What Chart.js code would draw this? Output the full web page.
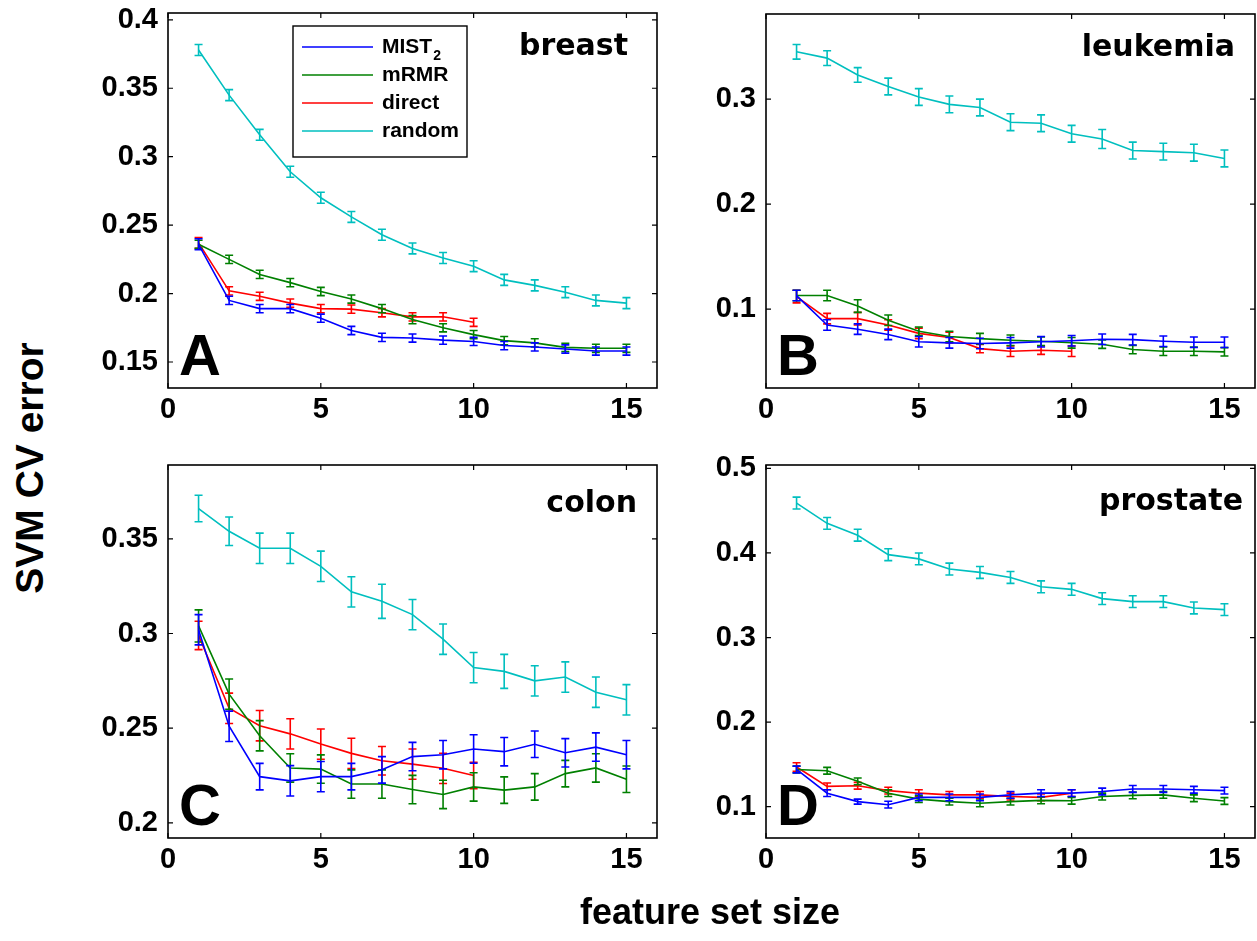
<!DOCTYPE html>
<html>
<head>
<meta charset="utf-8">
<script src="https://cdn.jsdelivr.net/npm/chart.js@4"></script>
<style>
  html, body { margin: 0; padding: 0; background: #fff; }
  body { width: 1257px; height: 941px; position: relative; overflow: hidden; }
  canvas { position: absolute; }
  .axis-title { position: absolute; font-family: "Liberation Sans", Arial, sans-serif; font-weight: bold; color: #000; white-space: nowrap; }
</style>
</head>
<body>
<canvas id="panelA"></canvas>
<canvas id="panelB"></canvas>
<canvas id="panelC"></canvas>
<canvas id="panelD"></canvas>
<div class="axis-title" id="yTitle">SVM CV error</div>
<div class="axis-title" id="xTitle">feature set size</div>
<script>
// --- data ---
const featureSizes = [1, 2, 3, 4, 5, 6, 7, 8, 9, 10, 11, 12, 13, 14, 15];
const directSizes = [1, 2, 3, 4, 5, 6, 7, 8, 9, 10];
const seriesNames = ['MIST2', 'mRMR', 'direct', 'random'];
const xTicks = [0, 5, 10, 15];

// breast
const breastMist = [0.236, 0.195, 0.189, 0.189, 0.182, 0.173, 0.168, 0.1675, 0.166, 0.165, 0.162, 0.161, 0.1595, 0.158, 0.158];
const breastMistErr = [0.004, 0.003, 0.003, 0.003, 0.003, 0.003, 0.003, 0.003, 0.003, 0.003, 0.003, 0.003, 0.003, 0.003, 0.003];
const breastMrmr = [0.236, 0.225, 0.214, 0.208, 0.2015, 0.196, 0.189, 0.181, 0.175, 0.170, 0.1656, 0.164, 0.1607, 0.160, 0.160];
const breastMrmrErr = [0.003, 0.003, 0.003, 0.003, 0.003, 0.003, 0.003, 0.003, 0.003, 0.003, 0.003, 0.003, 0.003, 0.003, 0.003];
const breastDirect = [0.237, 0.202, 0.198, 0.193, 0.189, 0.1886, 0.186, 0.183, 0.183, 0.179];
const breastDirectErr = [0.004, 0.003, 0.003, 0.003, 0.003, 0.003, 0.003, 0.003, 0.003, 0.003];
const breastRandom = [0.378, 0.345, 0.316, 0.289, 0.270, 0.256, 0.243, 0.233, 0.226, 0.220, 0.210, 0.206, 0.201, 0.195, 0.193];
const breastRandomErr = [0.004, 0.004, 0.004, 0.004, 0.004, 0.004, 0.004, 0.004, 0.004, 0.004, 0.004, 0.004, 0.004, 0.004, 0.004];

// leukemia
const leukMist = [0.113, 0.085, 0.081, 0.076, 0.069, 0.068, 0.0673, 0.068, 0.069, 0.070, 0.0714, 0.071, 0.0695, 0.0686, 0.0686];
const leukMistErr = [0.005, 0.005, 0.005, 0.005, 0.005, 0.005, 0.005, 0.005, 0.005, 0.005, 0.005, 0.005, 0.005, 0.005, 0.005];
const leukMrmr = [0.113, 0.113, 0.103, 0.0895, 0.079, 0.074, 0.072, 0.0705, 0.0695, 0.068, 0.0667, 0.0616, 0.060, 0.060, 0.0594];
const leukMrmrErr = [0.005, 0.005, 0.006, 0.005, 0.004, 0.005, 0.005, 0.005, 0.004, 0.005, 0.004, 0.004, 0.004, 0.004, 0.004];
const leukDirect = [0.112, 0.091, 0.091, 0.085, 0.077, 0.073, 0.0625, 0.060, 0.061, 0.060];
const leukDirectErr = [0.006, 0.005, 0.006, 0.005, 0.005, 0.005, 0.004, 0.005, 0.004, 0.005];
const leukRandom = [0.345, 0.339, 0.323, 0.312, 0.302, 0.295, 0.292, 0.278, 0.277, 0.267, 0.262, 0.251, 0.250, 0.249, 0.2435];
const leukRandomErr = [0.007, 0.007, 0.007, 0.008, 0.008, 0.008, 0.008, 0.008, 0.008, 0.008, 0.009, 0.008, 0.008, 0.008, 0.008];

// colon
const colonMist = [0.302, 0.251, 0.2244, 0.2222, 0.2244, 0.2244, 0.228, 0.235, 0.236, 0.239, 0.2376, 0.2415, 0.237, 0.240, 0.236];
const colonMistErr = [0.008, 0.008, 0.007, 0.008, 0.008, 0.007, 0.007, 0.0075, 0.0075, 0.0075, 0.0075, 0.007, 0.0075, 0.0075, 0.0075];
const colonMrmr = [0.304, 0.268, 0.246, 0.229, 0.2284, 0.2205, 0.2205, 0.2176, 0.215, 0.219, 0.2173, 0.219, 0.226, 0.229, 0.223];
const colonMrmrErr = [0.0085, 0.008, 0.008, 0.0075, 0.0075, 0.0075, 0.0075, 0.0075, 0.0075, 0.0075, 0.007, 0.007, 0.007, 0.0075, 0.007];
const colonDirect = [0.299, 0.2605, 0.2513, 0.247, 0.2416, 0.2367, 0.2328, 0.231, 0.2288, 0.225];
const colonDirectErr = [0.0075, 0.008, 0.008, 0.008, 0.008, 0.008, 0.0075, 0.008, 0.008, 0.007];
const colonRandom = [0.366, 0.354, 0.345, 0.345, 0.3355, 0.322, 0.317, 0.310, 0.297, 0.282, 0.280, 0.275, 0.277, 0.269, 0.265];
const colonRandomErr = [0.007, 0.0075, 0.008, 0.008, 0.008, 0.008, 0.009, 0.008, 0.008, 0.008, 0.009, 0.008, 0.008, 0.008, 0.008];

// prostate
const prostMist = [0.144, 0.116, 0.106, 0.1024, 0.111, 0.111, 0.111, 0.114, 0.116, 0.116, 0.118, 0.121, 0.121, 0.120, 0.119];
const prostMistErr = [0.004, 0.004, 0.003, 0.004, 0.004, 0.004, 0.004, 0.004, 0.004, 0.004, 0.004, 0.004, 0.004, 0.004, 0.004];
const prostMrmr = [0.144, 0.1425, 0.130, 0.116, 0.109, 0.106, 0.104, 0.106, 0.1075, 0.107, 0.112, 0.1134, 0.114, 0.110, 0.1067];
const prostMrmrErr = [0.004, 0.004, 0.004, 0.004, 0.004, 0.004, 0.004, 0.004, 0.004, 0.004, 0.004, 0.004, 0.004, 0.004, 0.004];
const prostDirect = [0.147, 0.124, 0.1248, 0.119, 0.116, 0.114, 0.114, 0.112, 0.111, 0.116];
const prostDirectErr = [0.005, 0.004, 0.004, 0.004, 0.004, 0.004, 0.004, 0.004, 0.004, 0.004];
const prostRandom = [0.459, 0.435, 0.421, 0.398, 0.393, 0.381, 0.377, 0.371, 0.360, 0.357, 0.346, 0.3425, 0.3425, 0.335, 0.333];
const prostRandomErr = [0.007, 0.007, 0.007, 0.007, 0.007, 0.007, 0.007, 0.007, 0.007, 0.007, 0.007, 0.007, 0.007, 0.007, 0.007];

// y axis ticks
const breastYTicks = [0.15, 0.2, 0.25, 0.3, 0.35, 0.4];
const leukYTicks = [0.1, 0.2, 0.3];
const colonYTicks = [0.2, 0.25, 0.3, 0.35];
const prostYTicks = [0.1, 0.2, 0.3, 0.4, 0.5];

// --- layout / styling ---
const COLORS = ['#0000ff', '#008000', '#ff0000', '#00bfbf'];
const AXIS_W = 110;   // room left of the plot box for y labels
const AXIS_H = 60;    // room under the plot box for x labels
const PAD_T = 10;
const PAD_R = 2;
const TICK_FONT = { family: '"Liberation Sans", Arial, sans-serif', size: 29, weight: 'bold' };

function fmt(v) { return String(Number(v.toFixed(3))); }

// box round the plot area + inward ticks, matlab style
const boxPlugin = {
  id: 'box',
  afterDraw(chart) {
    const { ctx, chartArea: a, scales } = chart;
    ctx.save();
    ctx.strokeStyle = '#000';
    ctx.lineWidth = 1.6;
    ctx.strokeRect(a.left, a.top, a.right - a.left, a.bottom - a.top);
    ctx.lineWidth = 1.2;
    ctx.beginPath();
    scales.x.ticks.forEach(t => {
      const px = scales.x.getPixelForValue(t.value);
      ctx.moveTo(px, a.bottom); ctx.lineTo(px, a.bottom - 5);
      ctx.moveTo(px, a.top); ctx.lineTo(px, a.top + 5);
    });
    scales.y.ticks.forEach(t => {
      const py = scales.y.getPixelForValue(t.value);
      ctx.moveTo(a.left, py); ctx.lineTo(a.left + 5, py);
      ctx.moveTo(a.right, py); ctx.lineTo(a.right - 5, py);
    });
    ctx.stroke();
    ctx.restore();
  }
};

// error bars
const errorBarPlugin = {
  id: 'errbars',
  afterDatasetDraw(chart, args) {
    const ds = chart.data.datasets[args.index];
    if (!ds.err) return;
    const { ctx, scales } = chart;
    ctx.save();
    ctx.strokeStyle = ds.borderColor;
    ctx.lineWidth = 1.6;
    ctx.beginPath();
    ds.data.forEach((p, i) => {
      const x = scales.x.getPixelForValue(p.x);
      const y1 = scales.y.getPixelForValue(p.y - ds.err[i]);
      const y2 = scales.y.getPixelForValue(p.y + ds.err[i]);
      ctx.moveTo(x, y1); ctx.lineTo(x, y2);
      ctx.moveTo(x - 4, y1); ctx.lineTo(x + 4, y1);
      ctx.moveTo(x - 4, y2); ctx.lineTo(x + 4, y2);
    });
    ctx.stroke();
    ctx.restore();
  }
};

// panel name (top right) and letter (bottom left)
const labelPlugin = {
  id: 'panelLabels',
  afterDraw(chart, args, opts) {
    const { ctx, chartArea: a } = chart;
    ctx.save();
    ctx.fillStyle = '#000';
    ctx.textBaseline = 'alphabetic';
    ctx.font = 'bold 30px "DejaVu Sans", sans-serif';
    ctx.textAlign = 'right';
    ctx.fillText(opts.name, a.right - opts.nameGap, a.top + opts.nameDrop);
    ctx.font = 'bold 58px "Liberation Sans", Arial, sans-serif';
    ctx.textAlign = 'left';
    ctx.fillText(opts.letter, a.left + 11, a.bottom - 13);
    ctx.restore();
  }
};

// legend box, only in panel A
const legendPlugin = {
  id: 'boxLegend',
  afterDraw(chart, args, opts) {
    if (!opts.show) return;
    const { ctx, chartArea: a } = chart;
    const L = a.left + 125, T = a.top + 13, W = 174, H = 131;
    ctx.save();
    ctx.fillStyle = '#fff';
    ctx.fillRect(L, T, W, H);
    ctx.strokeStyle = '#000';
    ctx.lineWidth = 1.4;
    ctx.strokeRect(L, T, W, H);
    chart.data.datasets.forEach((ds, i) => {
      const y = T + 21 + i * 28;
      ctx.strokeStyle = ds.borderColor;
      ctx.lineWidth = 1.3;
      ctx.beginPath();
      ctx.moveTo(L + 9, y); ctx.lineTo(L + 80, y);
      ctx.stroke();
      ctx.fillStyle = '#000';
      ctx.textBaseline = 'middle';
      ctx.font = 'bold 21px "Liberation Sans", Arial, sans-serif';
      const label = ds.label;
      if (label === 'MIST2') {
        ctx.fillText('MIST', L + 89, y);
        const w = ctx.measureText('MIST').width;
        ctx.font = 'bold 14px "Liberation Sans", Arial, sans-serif';
        ctx.fillText('2', L + 89 + w + 1, y + 9);
      } else {
        ctx.fillText(label, L + 89, y);
      }
    });
    ctx.restore();
  }
};

function series(xs, ys, errs, i) {
  return {
    label: seriesNames[i],
    data: ys.map((v, k) => ({ x: xs[k], y: v })),
    err: errs,
    borderColor: COLORS[i],
    backgroundColor: COLORS[i],
    borderWidth: 1.6,
    pointRadius: 0,
    tension: 0,
    fill: false
  };
}

function makePanel(id, box, cfg) {
  const cv = document.getElementById(id);
  const w = box.right - box.left + AXIS_W + PAD_R;
  const h = box.bottom - box.top + PAD_T + AXIS_H;
  cv.width = w; cv.height = h;
  cv.style.left = (box.left - AXIS_W) + 'px';
  cv.style.top = (box.top - PAD_T) + 'px';
  cv.style.width = w + 'px'; cv.style.height = h + 'px';

  return new Chart(cv, {
    type: 'line',
    data: { datasets: cfg.datasets },
    options: {
      responsive: false,
      animation: false,
      devicePixelRatio: 1,
      layout: { padding: { top: PAD_T, right: PAD_R, left: 0, bottom: 0 } },
      scales: {
        x: {
          type: 'linear', min: 0, max: 16,
          grid: { display: false, drawTicks: false },
          border: { display: false },
          ticks: { color: '#000', font: TICK_FONT, padding: 5, maxRotation: 0, callback: v => fmt(v) },
          afterBuildTicks: s => { s.ticks = xTicks.map(v => ({ value: v })); },
          afterFit: s => { s.height = AXIS_H; s.paddingLeft = 0; s.paddingRight = 0; }
        },
        y: {
          type: 'linear', min: cfg.yMin, max: cfg.yMax,
          grid: { display: false, drawTicks: false },
          border: { display: false },
          ticks: { color: '#000', font: TICK_FONT, padding: 10, callback: v => fmt(v) },
          afterBuildTicks: s => { s.ticks = cfg.yTicks.map(v => ({ value: v })); },
          afterFit: s => { s.width = AXIS_W; s.paddingTop = 0; s.paddingBottom = 0; }
        }
      },
      plugins: {
        legend: { display: false },
        tooltip: { enabled: false },
        panelLabels: { name: cfg.name, letter: cfg.letter, nameGap: cfg.nameGap, nameDrop: cfg.nameDrop },
        boxLegend: { show: !!cfg.legend }
      }
    },
    plugins: [errorBarPlugin, boxPlugin, labelPlugin, legendPlugin]
  });
}

makePanel('panelA', { left: 168, right: 657, top: 13, bottom: 388 }, {
  name: 'breast', letter: 'A', nameGap: 29, nameDrop: 42, legend: true,
  yMin: 0.131, yMax: 0.405, yTicks: breastYTicks,
  datasets: [
    series(featureSizes, breastMist, breastMistErr, 0),
    series(featureSizes, breastMrmr, breastMrmrErr, 1),
    series(directSizes, breastDirect, breastDirectErr, 2),
    series(featureSizes, breastRandom, breastRandomErr, 3)
  ]
});

makePanel('panelB', { left: 766, right: 1255, top: 14, bottom: 388 }, {
  name: 'leukemia', letter: 'B', nameGap: 20, nameDrop: 42,
  yMin: 0.025, yMax: 0.381, yTicks: leukYTicks,
  datasets: [
    series(featureSizes, leukMist, leukMistErr, 0),
    series(featureSizes, leukMrmr, leukMrmrErr, 1),
    series(directSizes, leukDirect, leukDirectErr, 2),
    series(featureSizes, leukRandom, leukRandomErr, 3)
  ]
});

makePanel('panelC', { left: 168, right: 657, top: 465, bottom: 838 }, {
  name: 'colon', letter: 'C', nameGap: 20, nameDrop: 47,
  yMin: 0.192, yMax: 0.389, yTicks: colonYTicks,
  datasets: [
    series(featureSizes, colonMist, colonMistErr, 0),
    series(featureSizes, colonMrmr, colonMrmrErr, 1),
    series(directSizes, colonDirect, colonDirectErr, 2),
    series(featureSizes, colonRandom, colonRandomErr, 3)
  ]
});

makePanel('panelD', { left: 766, right: 1255, top: 465, bottom: 838 }, {
  name: 'prostate', letter: 'D', nameGap: 12, nameDrop: 45,
  yMin: 0.063, yMax: 0.504, yTicks: prostYTicks,
  datasets: [
    series(featureSizes, prostMist, prostMistErr, 0),
    series(featureSizes, prostMrmr, prostMrmrErr, 1),
    series(directSizes, prostDirect, prostDirectErr, 2),
    series(featureSizes, prostRandom, prostRandomErr, 3)
  ]
});

// shared axis titles
const yTitle = document.getElementById('yTitle');
yTitle.style.fontSize = '39px';
yTitle.style.left = '30px';
yTitle.style.top = '468px';
yTitle.style.transform = 'translate(-50%, -50%) rotate(-90deg)';

const xTitle = document.getElementById('xTitle');
xTitle.style.fontSize = '36px';
xTitle.style.left = '710px';
xTitle.style.top = '912px';
xTitle.style.transform = 'translate(-50%, -50%)';
</script>
</body>
</html>
